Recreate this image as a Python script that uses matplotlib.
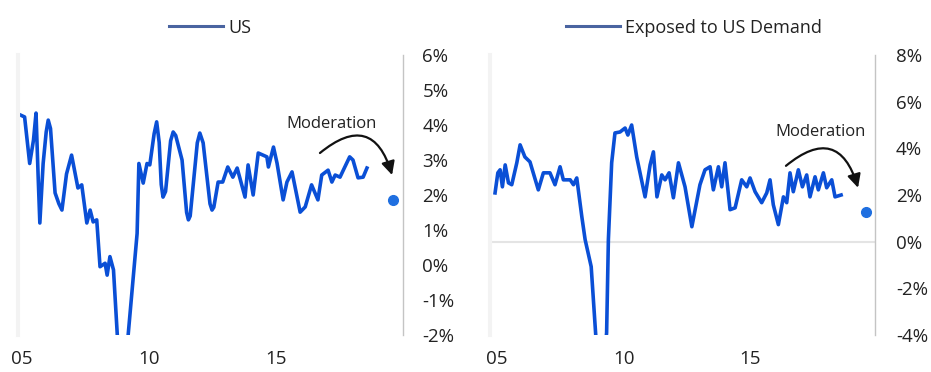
import matplotlib
matplotlib.use("Agg")
import matplotlib.pyplot as plt
from matplotlib.lines import Line2D
from matplotlib.ticker import FuncFormatter

plt.rcParams['font.family'] = ['Open Sans', 'DejaVu Sans']

# US series (year, % y/y)
us_years = [2004.92, 2005.1, 2005.3, 2005.45, 2005.55, 2005.63, 2005.7, 2005.83, 2005.95,
            2006.03, 2006.12, 2006.3, 2006.45, 2006.57, 2006.75, 2006.95, 2007.2, 2007.35,
            2007.55, 2007.68, 2007.8, 2007.94, 2008.07, 2008.27, 2008.35, 2008.46, 2008.6,
            2008.75, 2008.95, 2009.17, 2009.53, 2009.6, 2009.77, 2009.92, 2010.03, 2010.2,
            2010.3, 2010.4, 2010.48, 2010.55, 2010.65, 2010.85, 2010.95, 2011.05, 2011.3,
            2011.48, 2011.55, 2011.62, 2011.9, 2012.0, 2012.13, 2012.4, 2012.48, 2012.55,
            2012.72, 2012.9, 2013.1, 2013.3, 2013.47, 2013.78, 2013.9, 2014.1, 2014.3,
            2014.64, 2014.7, 2014.9, 2015.04, 2015.28, 2015.43, 2015.63, 2015.75, 2015.95,
            2016.15, 2016.4, 2016.65, 2016.8, 2017.05, 2017.2, 2017.33, 2017.52, 2017.65,
            2017.9, 2018.03, 2018.23, 2018.43, 2018.58]
us_values = [4.29, 4.23, 2.9, 3.57, 4.34, 2.6, 1.2, 2.9, 3.8,
             4.14, 3.9, 2.06, 1.75, 1.57, 2.6, 3.14, 2.2, 2.29,
             1.2, 1.57, 1.23, 1.29, -0.05, 0.05, -0.29, 0.24, -0.14,
             -2.0, -4.5, -2.06, 0.9, 2.9, 2.34, 2.9, 2.86, 3.75,
             4.09, 3.5, 2.3, 1.94, 2.1, 3.55, 3.8, 3.7, 3.0,
             1.5, 1.29, 1.4, 3.49, 3.77, 3.49, 1.75, 1.57, 1.65,
             2.37, 2.37, 2.8, 2.51, 2.77, 1.94, 2.86, 2.0, 3.2,
             3.09, 2.8, 3.37, 2.91, 1.86, 2.37, 2.66, 2.23, 1.51,
             1.66, 2.29, 1.86, 2.57, 2.71, 2.37, 2.57, 2.51, 2.71,
             3.09, 3.0, 2.49, 2.51, 2.77]
us_forecast_year = 2019.6
us_forecast = 1.86

# Economies exposed to US demand (year, % y/y)
ex_years = [2004.92, 2005.03, 2005.12, 2005.21, 2005.32, 2005.45, 2005.58, 2005.78, 2005.91,
            2006.1, 2006.3, 2006.63, 2006.83, 2007.09, 2007.29, 2007.49, 2007.62, 2007.89,
            2008.02, 2008.15, 2008.35, 2008.48, 2008.72, 2008.9, 2009.12, 2009.33, 2009.4,
            2009.53, 2009.66, 2009.86, 2010.06, 2010.17, 2010.32, 2010.52, 2010.85, 2011.05,
            2011.18, 2011.32, 2011.51, 2011.64, 2011.8, 2011.97, 2012.17, 2012.43, 2012.7,
            2013.02, 2013.22, 2013.42, 2013.55, 2013.75, 2013.88, 2014.01, 2014.21, 2014.41,
            2014.67, 2014.87, 2015.0, 2015.2, 2015.46, 2015.66, 2015.79, 2015.92, 2016.12,
            2016.32, 2016.45, 2016.58, 2016.71, 2016.91, 2017.07, 2017.24, 2017.37, 2017.57,
            2017.7, 2017.9, 2018.03, 2018.23, 2018.36, 2018.6]
ex_values = [2.09, 2.95, 3.08, 2.35, 3.29, 2.52, 2.44, 3.38, 4.15,
             3.63, 3.42, 2.22, 2.95, 2.95, 2.44, 3.21, 2.65, 2.65,
             2.44, 2.73, 1.07, 0.09, -1.07, -4.0, -6.5, -3.9, 0.09,
             3.38, 4.66, 4.7, 4.87, 4.57, 5.0, 3.63, 1.92, 3.29,
             3.85, 1.92, 2.86, 2.65, 2.95, 1.88, 3.38, 2.35, 0.64,
             2.44, 3.08, 3.21, 2.22, 3.21, 2.35, 3.38, 1.37, 1.45,
             2.65, 2.35, 2.73, 2.14, 1.67, 2.09, 2.65, 1.58, 0.73,
             1.92, 1.67, 2.95, 2.14, 3.08, 2.35, 2.86, 1.92, 2.78,
             2.22, 2.95, 2.31, 2.65, 1.92, 2.0]
ex_forecast_year = 2019.57
ex_forecast = 1.28

x_ticks = [2005, 2010, 2015]
x_labels = ['05', '10', '15']

LINE = '#0a4fd6'
DOT = '#1f6fe0'
LEGEND_LINE = '#4a64a0'
TEXT = '#222222'

fig = plt.figure(figsize=(9.31, 3.72), dpi=100)
ax1 = fig.add_axes([18 / 931, 1 - 335 / 372, 385 / 931, 280 / 372])
ax2 = fig.add_axes([490 / 931, 1 - 335 / 372, 385 / 931, 280 / 372])

pct = FuncFormatter(lambda v, p: f'{v:.0f}%')


def style(ax, xlim, ylim, yticks, label, pad_y, leg_x):
    ax.set_xlim(*xlim)
    ax.set_ylim(*ylim)
    ax.set_yticks(yticks)
    ax.yaxis.set_major_formatter(pct)
    ax.yaxis.tick_right()
    ax.set_xticks(x_ticks)
    ax.set_xticklabels(x_labels)
    ax.tick_params(axis='both', length=0, labelsize=13.5, colors=TEXT)
    ax.tick_params(axis='y', pad=pad_y)
    ax.tick_params(axis='x', pad=11)
    for s in ['top', 'bottom']:
        ax.spines[s].set_visible(False)
    ax.spines['left'].set_color('#f3f3f3')
    ax.spines['left'].set_linewidth(3)
    ax.spines['right'].set_color('#c4c4c4')
    ax.spines['right'].set_linewidth(1)
    handle = Line2D([0], [0], color=LEGEND_LINE, lw=2.2)
    leg = ax.legend([handle], [label], loc='lower center', bbox_to_anchor=(leg_x, 1.04),
                    frameon=False, fontsize=13, handlelength=3.0, handletextpad=0.3,
                    borderaxespad=0)
    for t in leg.get_texts():
        t.set_color(TEXT)


arrow_style = dict(arrowstyle='-|>,head_length=0.8,head_width=0.4', color='#111111',
                   lw=1.6, connectionstyle='arc3,rad=-0.75', shrinkA=0, shrinkB=0)

# US panel
style(ax1, (2004.84, 2020.0), (-2, 6), range(-2, 7), 'US', 14, 0.5)
ax1.plot(us_years, us_values, color=LINE, lw=2.6, solid_joinstyle='round')
ax1.plot([us_forecast_year], [us_forecast], 'o', color=DOT, ms=7)
ax1.text(2017.17, 4.03, 'Moderation', ha='center', va='center', fontsize=12, color=TEXT)
ax1.annotate('', xy=(2019.57, 2.57), xytext=(2016.73, 3.2), arrowprops=arrow_style)

# Exposed-to-US-demand panel
style(ax2, (2004.72, 2019.94), (-4, 8), range(-4, 9, 2), 'Exposed to US Demand', 15, 0.53)
ax2.axhline(0, color='#e4e4e4', lw=1.5, zorder=0)
ax2.plot(ex_years, ex_values, color=LINE, lw=2.6, solid_joinstyle='round')
ax2.plot([ex_forecast_year], [ex_forecast], 'o', color=DOT, ms=7)
ax2.text(2017.77, 4.7, 'Moderation', ha='center', va='center', fontsize=12, color=TEXT)
ax2.annotate('', xy=(2019.27, 2.31), xytext=(2016.42, 3.25), arrowprops=arrow_style)

fig.savefig('out.png', dpi=100, facecolor='white')
